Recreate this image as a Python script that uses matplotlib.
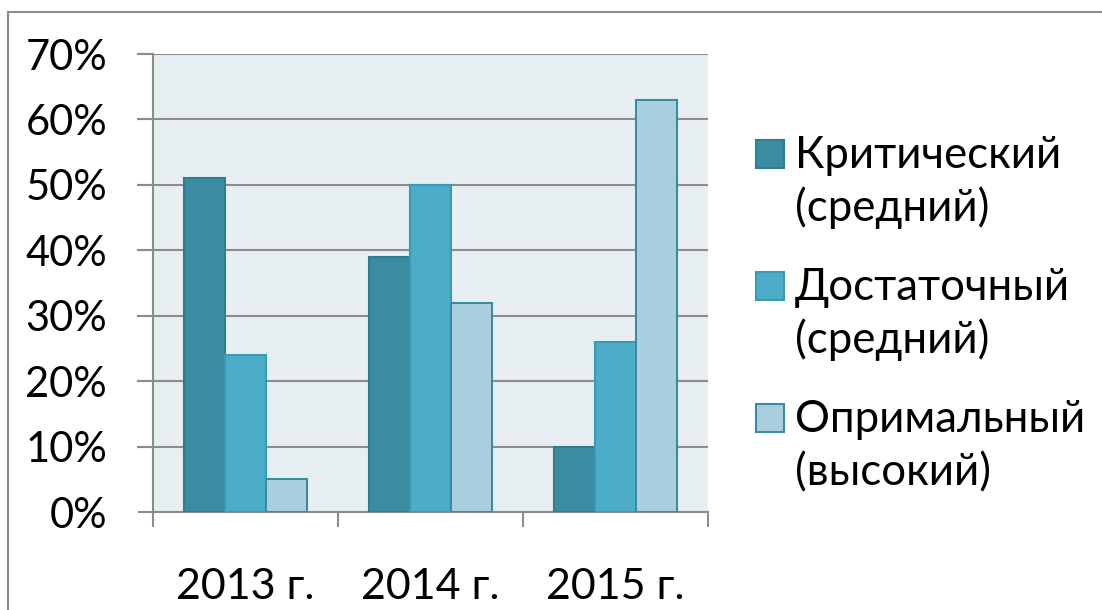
import numpy as np
import matplotlib.pyplot as plt
from matplotlib.patches import Rectangle

# data
years = ['2013 г.', '2014 г.', '2015 г.']
series = ['Критический\n(средний)', 'Достаточный\n(средний)', 'Опримальный\n(высокий)']
critical = [51, 39, 10]
sufficient = [24, 50, 26]
optimal = [5, 32, 63]
values = [critical, sufficient, optimal]

colors = ['#3B8BA1', '#4BADC7', '#A9CFDE']
edges = ['#2F7D93', '#3A9AB3', '#3A8CA2']
grid_c = '#8C8C8C'

plt.rcParams['font.family'] = ['Lato', 'DejaVu Sans']

fig = plt.figure(figsize=(11.02, 6.10), dpi=100)
ax = fig.add_axes([153 / 1102, 1 - 512 / 610, (708 - 153) / 1102, (512 - 54) / 610])
ax.set_facecolor('#E7EFF3')

x = np.arange(len(years))
w = 1 / 4.5  # excel gap width 150%
for i, vals in enumerate(values):
    ax.bar(x + (i - 1) * w, vals, w, color=colors[i], edgecolor=edges[i],
           linewidth=1.5, zorder=3)

ax.set_xlim(-0.5, len(years) - 0.5)
ax.set_ylim(0, 70)
ax.set_yticks(range(0, 71, 10))
ax.set_yticklabels([f'{v}%' for v in range(0, 71, 10)])
ax.set_xticks(x)
ax.set_xticklabels(years)
ax.set_xticks(np.arange(-0.5, len(years), 1), minor=True)

ax.grid(axis='y', color=grid_c, linewidth=1.5, zorder=1)
for s in ['top', 'right']:
    ax.spines[s].set_visible(False)
for s in ['left', 'bottom']:
    ax.spines[s].set_color(grid_c)
    ax.spines[s].set_linewidth(1.5)

ax.tick_params(axis='y', length=11, width=1.5, color=grid_c, pad=22, labelsize=30)
ax.tick_params(axis='x', which='major', length=0, pad=40, labelsize=31)
ax.tick_params(axis='x', which='minor', length=11, width=1.5, color=grid_c)

# extend gridlines across the tick area on the left
for yv in range(10, 71, 10):
    ax.plot([-0.58, -0.5], [yv, yv], color=grid_c, lw=1.5, clip_on=False, zorder=1)

# legend drawn by hand
sq = 28
for i, name in enumerate(series):
    top = 140 + i * 132
    fig.add_artist(Rectangle((756 / 1102, 1 - (top + sq) / 610), sq / 1102, sq / 610,
                             facecolor=colors[i], edgecolor=edges[i], lw=1.5,
                             transform=fig.transFigure))
    first, second = name.split('\n')
    fig.text(795 / 1102, 1 - (top + sq) / 610, first,
             fontsize=31.5, va='baseline', ha='left')
    fig.text(795 / 1102, 1 - (top + sq + 53) / 610, second,
             fontsize=31.5, va='baseline', ha='left')

# outer chart frame
fig.add_artist(plt.Line2D([8 / 1102, 8 / 1102], [0, 1 - 12 / 610], color=grid_c,
                          lw=1.5, transform=fig.transFigure))
fig.add_artist(plt.Line2D([8 / 1102, 1], [1 - 12 / 610, 1 - 12 / 610], color=grid_c,
                          lw=1.5, transform=fig.transFigure))

fig.savefig('out.png', dpi=100)
